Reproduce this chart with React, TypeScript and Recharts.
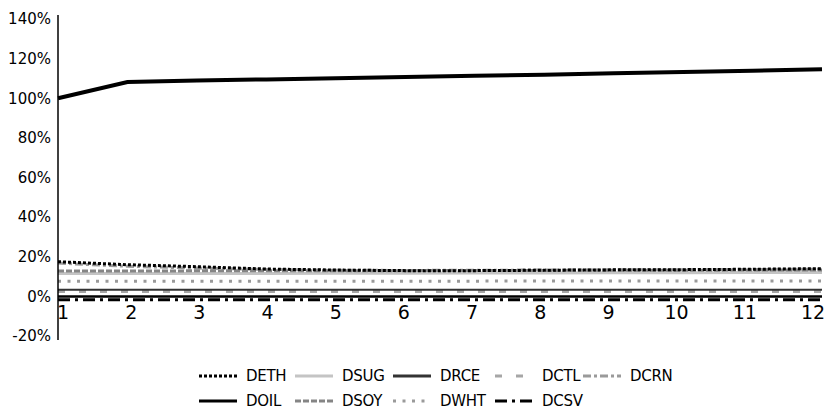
import { Line, LineChart, ReferenceLine, XAxis, YAxis } from "recharts";

// Monthly index values, as fractions of the base (1 = 100%).
const months = [1, 2, 3, 4, 5, 6, 7, 8, 9, 10, 11, 12];
const deth = [0.175, 0.16, 0.15, 0.138, 0.133, 0.13, 0.13, 0.132, 0.134, 0.135, 0.137, 0.14];
const dsug = [0.115, 0.115, 0.116, 0.116, 0.117, 0.117, 0.118, 0.118, 0.119, 0.119, 0.12, 0.12];
const drce = [0.033, 0.033, 0.033, 0.033, 0.033, 0.033, 0.033, 0.033, 0.033, 0.033, 0.033, 0.033];
const dctl = [0.025, 0.025, 0.025, 0.025, 0.025, 0.025, 0.025, 0.025, 0.025, 0.025, 0.025, 0.025];
const dcrn = [0.168, 0.152, 0.143, 0.136, 0.132, 0.131, 0.132, 0.133, 0.134, 0.135, 0.136, 0.137];
const doil = [1.0, 1.082, 1.089, 1.095, 1.101, 1.107, 1.113, 1.119, 1.126, 1.132, 1.139, 1.146];
const dsoy = [0.128, 0.128, 0.129, 0.129, 0.13, 0.13, 0.131, 0.131, 0.132, 0.132, 0.133, 0.133];
const dwht = [0.076, 0.076, 0.076, 0.077, 0.077, 0.077, 0.077, 0.078, 0.078, 0.078, 0.078, 0.078];
const dcsv = [-0.017, -0.017, -0.017, -0.017, -0.017, -0.017, -0.017, -0.017, -0.017, -0.017, -0.017, -0.017];

const yTicks = [-0.2, 0, 0.2, 0.4, 0.6, 0.8, 1.0, 1.2, 1.4];

interface SeriesStyle {
  color: string;
  width: number;
  dash?: string;
}

const styles: Record<string, SeriesStyle> = {
  DETH: { color: "#000", width: 3, dash: "3 2" },
  DSUG: { color: "#c4c4c4", width: 3 },
  DRCE: { color: "#333", width: 2 },
  DCTL: { color: "#a6a6a6", width: 3, dash: "7 14" },
  DCRN: { color: "#9a9a9a", width: 3, dash: "8 3 3 3" },
  DOIL: { color: "#000", width: 4 },
  DSOY: { color: "#858585", width: 3, dash: "6 2" },
  DWHT: { color: "#9a9a9a", width: 3, dash: "3 6.5" },
  DCSV: { color: "#000", width: 3, dash: "12 5 3 5" },
};

const legendRows = [
  ["DETH", "DSUG", "DRCE", "DCTL", "DCRN"],
  ["DOIL", "DSOY", "DWHT", "DCSV"],
];
const legendCols = [199, 295, 393, 495, 583];

const data = months.map((m, i) => ({
  month: m,
  DETH: deth[i],
  DSUG: dsug[i],
  DRCE: drce[i],
  DCTL: dctl[i],
  DCRN: dcrn[i],
  DOIL: doil[i],
  DSOY: dsoy[i],
  DWHT: dwht[i],
  DCSV: dcsv[i],
}));

// draw order: background lines first, oil on top
const drawOrder = ["DSUG", "DCRN", "DSOY", "DETH", "DWHT", "DCTL", "DRCE", "DCSV", "DOIL"];

const FONT = "'DejaVu Sans', sans-serif";

function XTick(props: any) {
  const { x, y, payload } = props;
  // labels sit a little inward from the category points, just under the zero line
  const lx = 63 + (x - 58) * (750 / 764);
  return (
    <text x={lx} y={y} dy={-29} textAnchor="middle" fontSize={19} fill="#000" fontFamily={FONT}>
      {payload.value}
    </text>
  );
}

function LegendBox() {
  return (
    <div style={{ position: "absolute", left: 0, top: 0, width: 824, height: 410, pointerEvents: "none" }}>
      {legendRows.map((row, r) =>
        row.map((name, c) => {
          const s = styles[name];
          return (
            <div
              key={name}
              style={{
                position: "absolute",
                left: legendCols[c],
                top: 366 + r * 25,
                display: "flex",
                alignItems: "center",
                height: 20,
                fontFamily: FONT,
                fontSize: 15,
                letterSpacing: -0.3,
                color: "#000",
              }}
            >
              <svg width={38} height={20} style={{ marginRight: 9 }}>
                <line
                  x1={0}
                  y1={10}
                  x2={38}
                  y2={10}
                  stroke={s.color}
                  strokeWidth={3}
                  strokeDasharray={s.dash}
                />
              </svg>
              <span>{name}</span>
            </div>
          );
        })
      )}
    </div>
  );
}

export default function App() {
  return (
    <div style={{ position: "relative", width: 824, height: 410, background: "#fff" }}>
      <style>{`body{margin:0}`}</style>
      <LineChart width={824} height={410} data={data} margin={{ top: 15, right: 2, left: 0, bottom: 40 }}>
        <XAxis
          dataKey="month"
          type="number"
          domain={[1, 12]}
          ticks={months}
          axisLine={false}
          tickLine={false}
          tick={<XTick />}
          height={30}
          interval={0}
        />
        <YAxis
          type="number"
          domain={[-0.22, 1.42]}
          ticks={yTicks}
          width={58}
          axisLine={{ stroke: "#000", strokeWidth: 1.5 }}
          tickLine={false}
          tickMargin={1}
          tick={{ fill: "#000", fontSize: 15, fontFamily: FONT }}
          tickFormatter={(v: number) => `${Math.round(v * 100)}%`}
          allowDataOverflow
        />
        <ReferenceLine y={0} stroke="#000" strokeWidth={2.5} />
        {drawOrder.map((k) => {
          const s = styles[k];
          return (
            <Line
              key={k}
              type="linear"
              dataKey={k}
              stroke={s.color}
              strokeWidth={s.width}
              strokeDasharray={s.dash}
              dot={false}
              activeDot={false}
              isAnimationActive={false}
            />
          );
        })}
      </LineChart>
      <LegendBox />
    </div>
  );
}
